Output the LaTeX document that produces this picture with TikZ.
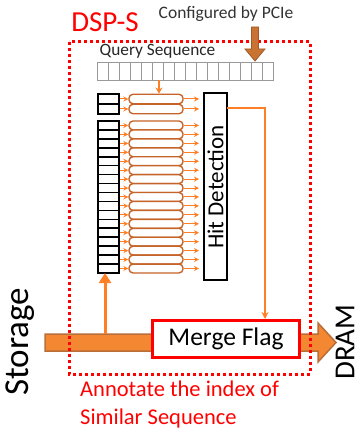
\documentclass[tikz,border=0pt]{standalone}
\usepackage{fontspec}
\setmainfont{Carlito}
\usetikzlibrary{arrows.meta,calc}
\definecolor{orng}{RGB}{255,127,39}
\definecolor{brwn}{RGB}{197,100,40}
\definecolor{bigfill}{RGB}{243,135,50}
\definecolor{bigedge}{RGB}{185,110,55}
\definecolor{pciefill}{RGB}{200,115,50}
\definecolor{pcieedge}{RGB}{160,90,40}
\tikzset{
  qcell/.style={draw=gray!80, line width=0.6pt, fill=white, minimum width=11pt, minimum height=18pt, inner sep=0pt},
  ccell/.style={draw=black, line width=1.6pt, fill=white, minimum width=21pt, inner sep=0pt},
  bar/.style={draw=brwn, line width=1.4pt, fill=white, rounded corners=4pt, minimum width=54pt, inner sep=0pt},
  smallarr/.style={draw=orng, line width=1pt, -{Stealth[length=5pt,width=5pt]}},
  redtext/.style={text=red, font=\fontsize{22.5}{24}\selectfont, anchor=west, inner sep=0pt},
}
\begin{document}
\begin{tikzpicture}[x=1pt,y=-1pt]
\useasboundingbox (0,0) rectangle (361,430);

% big storage -> DRAM arrow
\path[fill=bigfill, draw=bigedge, line width=1.5pt]
  (45,334) -- (318,334) -- (318,323) -- (336,342.5) -- (318,362) -- (318,351) -- (45,351) -- cycle;

% dotted DSP-S boundary
\draw[red, line width=3pt, dash pattern=on 3pt off 3pt] (69,42) rectangle (310,374);

\node[text=red, font=\fontsize{29}{32}\selectfont, inner sep=0pt] (dsp) at (105,22) {DSP-S};
\node[font=\fontsize{17.5}{20}\selectfont, text=black!80, inner sep=0pt] (pcie) at (226,14) {Configured by PCIe};

% PCIe arrow
\path[fill=pciefill, draw=pcieedge, line width=0.8pt]
  (251.5,27) -- (258.5,27) -- (258.5,49) -- (265,49) -- (255,61) -- (245,49) -- (251.5,49) -- cycle;

\node[font=\fontsize{17.3}{19}\selectfont, text=black!85, inner sep=0pt] (qlabel) at (157.5,51) {Query Sequence};

% query sequence cells
\foreach \i in {0,...,15} {
  \node[qcell] (q\i) at ({102.5+11*\i},71) {};
}
\draw[gray!80, line width=0.6pt] (97,62) rectangle (273,80);

% left column: two top cells
\foreach \i in {0,1} {
  \node[ccell, minimum height=10pt] (t\i) at (108.5,{99+10*\i}) {};
}
% long column: 17 cells
\foreach \i in {0,...,16} {
  \node[ccell, minimum height=8.94pt] (c\i) at (108.5,{121+8.94*(\i+0.5)}) {};
}
\coordinate (colbottom) at (105,273);

% Hit Detection
\node[draw=black, line width=1.6pt, fill=white, minimum width=23pt, minimum height=187pt, inner sep=0pt] (hit) at (215.5,186.5) {};
\node[rotate=90, font=\fontsize{23}{25}\selectfont, inner sep=0pt] (hittext) at (215.5,187) {Hit Detection};

% bars
\foreach \i in {0,1} {
  \node[bar, minimum height=9.5pt] (tb\i) at (156,{99+10*\i}) {};
  \coordinate (te\i) at (199,{99+10*\i});
  \draw[smallarr] (t\i.east) -- (tb\i.west);
  \draw[smallarr] (tb\i.east) -- (te\i);
}
\foreach \i in {0,...,16} {
  \node[bar, minimum height=8.9pt] (b\i) at (156,{121+8.94*(\i+0.5)}) {};
  \draw[smallarr] (c\i.east) -- (b\i.west);
}
\foreach \i in {0,...,16} {
  \coordinate (e\i) at (199,{121+8.94*(\i+0.5)});
  \draw[smallarr] (b\i.east) -- (e\i);
}

% query to first bar
\coordinate (qdown) at (159,80);
\draw[orng, line width=1.2pt, -{Stealth[length=6pt,width=7pt]}] (qdown) -- (qdown |- tb0.north);

% Merge Flag
\node[draw=red, line width=3pt, fill=white, minimum width=147pt, minimum height=37pt, inner sep=0pt, font=\fontsize{25.5}{27}\selectfont] (merge) at (226,339) {Merge Flag};

% hit detection to merge flag
\coordinate (hitout) at (227,108);
\draw[orng, line width=1.2pt, -{Stealth[length=7pt,width=7pt]}] (hitout) -| ($(merge.north)+(39,0)$);

% storage up to column
\coordinate (upstart) at (105,334);
\draw[orng, line width=3pt, -{Triangle[length=10pt,width=12pt]}] (upstart) -- (colbottom);

\node[rotate=90, font=\fontsize{35}{38}\selectfont, inner sep=0pt] (storage) at (20,342) {Storage};
\node[rotate=90, font=\fontsize{29}{31}\selectfont, inner sep=0pt] (dram) at (345,342) {DRAM};

\node[redtext] (ann1) at (80,389) {Annotate the index of};
\node[redtext] (ann2) at (80,418) {Similar Sequence};
\end{tikzpicture}
\end{document}
